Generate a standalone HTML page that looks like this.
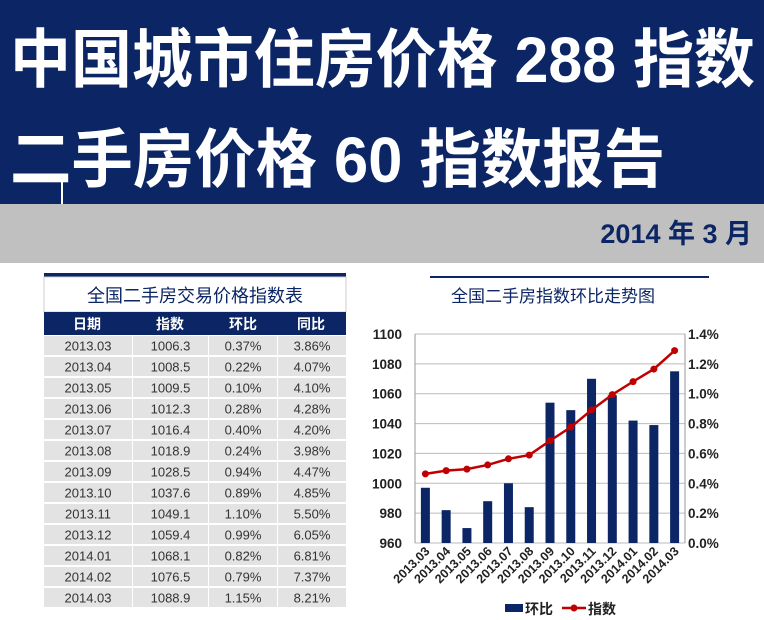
<!DOCTYPE html>
<html><head><meta charset="utf-8"><style>
body{margin:0;width:764px;height:620px;overflow:hidden;background:#fff}
svg{display:block}
text{font-family:"Liberation Sans","Noto Sans CJK SC",sans-serif}
</style></head><body>
<svg id="s" width="764" height="620" xmlns="http://www.w3.org/2000/svg">
<rect x="0" y="0" width="764" height="204" fill="#0b2565"/>
<rect x="0" y="204" width="764" height="59" fill="#c0c0c0"/>
<text x="10" y="82" font-size="64" font-weight="bold" fill="#fff" textLength="745" lengthAdjust="spacingAndGlyphs">中国城市住房价格 288 指数</text>
<text x="10" y="182" font-size="64" font-weight="bold" fill="#fff" textLength="655" lengthAdjust="spacingAndGlyphs">二手房价格 60 指数报告</text>
<rect x="61" y="178" width="2" height="26" fill="#fff"/>
<text x="752" y="243" font-size="27" font-weight="bold" fill="#0b2565" text-anchor="end">2014 年 3 月</text>
<rect x="44" y="273" width="302" height="4" fill="#0b2565"/>
<rect x="44" y="277" width="302" height="35" fill="#fff" stroke="#ccc" stroke-width="1"/>
<text x="195" y="302" font-size="18" fill="#0b2565" text-anchor="middle">全国二手房交易价格指数表</text>
<rect x="44" y="312" width="302" height="23" fill="#0b2565"/>
<g font-size="14" font-weight="bold" fill="#fff" text-anchor="middle">
<text x="87" y="329">日期</text><text x="170" y="329">指数</text><text x="243" y="329">环比</text><text x="311" y="329">同比</text></g>
<g id="tb"></g>
<rect x="430" y="276" width="279" height="2" fill="#0b2565"/>
<text x="553" y="302" font-size="17" fill="#0b2565" text-anchor="middle">全国二手房指数环比走势图</text>
<g id="ch"></g>
</svg>
<script>
var d=["2013.03","2013.04","2013.05","2013.06","2013.07","2013.08","2013.09","2013.10","2013.11","2013.12","2014.01","2014.02","2014.03"];
var ix=[1006.3,1008.5,1009.5,1012.3,1016.4,1018.9,1028.5,1037.6,1049.1,1059.4,1068.1,1076.5,1088.9];
var hb=[0.37,0.22,0.10,0.28,0.40,0.24,0.94,0.89,1.10,0.99,0.82,0.79,1.15];
var yb=["3.86","4.07","4.10","4.28","4.20","3.98","4.47","4.85","5.50","6.05","6.81","7.37","8.21"];
var t="",cols=[[44,88],[133,75],[209,68],[278,68]];
for(var i=0;i<13;i++){var y=336+i*21;
 var v=[d[i],ix[i].toFixed(1),hb[i].toFixed(2)+"%",yb[i]+"%"];
 for(var c=0;c<4;c++){t+='<rect x="'+cols[c][0]+'" y="'+y+'" width="'+cols[c][1]+'" height="19" fill="#e3e3e3"/>';
 t+='<text x="'+(cols[c][0]+cols[c][1]/2)+'" y="'+(y+14.5)+'" font-size="13" fill="#333" text-anchor="middle">'+v[c]+'</text>';}}
document.getElementById("tb").innerHTML=t;
var L=415,R=685,T=334,B=543,H=B-T,w=(R-L)/13,s="";
for(var k=0;k<=7;k++){var y=B-k*H/7;s+='<line x1="'+L+'" x2="'+R+'" y1="'+y+'" y2="'+y+'" stroke="#bbb"/>';
 s+='<text x="'+(L-13)+'" y="'+(y+5)+'" font-size="13.5" font-weight="bold" text-anchor="end" fill="#222">'+(960+k*20)+'</text>';
 s+='<text x="'+(R+3)+'" y="'+(y+5)+'" font-size="13.5" font-weight="bold" fill="#222">'+(k*0.2).toFixed(1)+'%</text>';}
s+='<line x1="'+L+'" x2="'+L+'" y1="'+T+'" y2="'+B+'" stroke="#999"/><line x1="'+R+'" x2="'+R+'" y1="'+T+'" y2="'+B+'" stroke="#999"/>';
var pts=[];
for(var i=0;i<13;i++){var cx=L+w*(i+0.5),bh=hb[i]/1.4*H;
 s+='<rect x="'+(cx-4.5)+'" y="'+(B-bh)+'" width="9" height="'+bh+'" fill="#0b2565"/>';
 pts.push(cx+","+(B-(ix[i]-960)*H/140));
 s+='<text transform="translate('+(cx+5)+',552) rotate(-45)" font-size="12.5" font-weight="bold" text-anchor="end" fill="#222">'+d[i]+'</text>';}
s+='<polyline points="'+pts.join(" ")+'" fill="none" stroke="#c00000" stroke-width="2.5"/>';
pts.forEach(function(p){var a=p.split(",");s+='<circle cx="'+a[0]+'" cy="'+a[1]+'" r="3.5" fill="#c00000"/>';});
s+='<rect x="505" y="604" width="18" height="8" fill="#0b2565"/><text x="525" y="614" font-size="14" font-weight="bold" fill="#222">环比</text>';
s+='<line x1="562" x2="586" y1="608" y2="608" stroke="#c00000" stroke-width="2.5"/><circle cx="574" cy="608" r="3.5" fill="#c00000"/><text x="588" y="614" font-size="14" font-weight="bold" fill="#222">指数</text>';
document.getElementById("ch").innerHTML=s;
</script>
</body></html>
